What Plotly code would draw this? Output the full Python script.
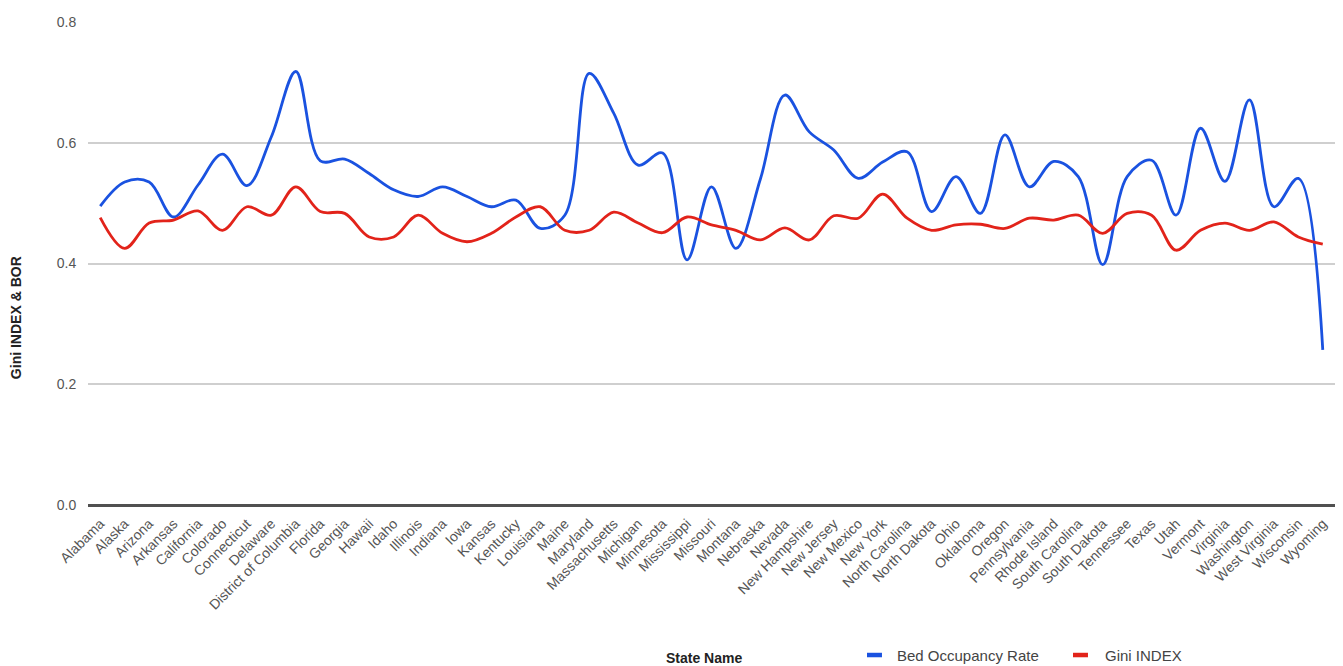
import plotly.graph_objects as go

states = [
    "Alabama", "Alaska", "Arizona", "Arkansas", "California", "Colorado",
    "Connecticut", "Delaware", "District of Columbia", "Florida", "Georgia",
    "Hawaii", "Idaho", "Illinois", "Indiana", "Iowa", "Kansas", "Kentucky",
    "Louisiana", "Maine", "Maryland", "Massachusetts", "Michigan", "Minnesota",
    "Mississippi", "Missouri", "Montana", "Nebraska", "Nevada", "New Hampshire",
    "New Jersey", "New Mexico", "New York", "North Carolina", "North Dakota",
    "Ohio", "Oklahoma", "Oregon", "Pennsylvania", "Rhode Island",
    "South Carolina", "South Dakota", "Tennessee", "Texas", "Utah", "Vermont",
    "Virginia", "Washington", "West Virginia", "Wisconsin", "Wyoming",
]

bed_occupancy_rate = [
    0.495, 0.535, 0.535, 0.477, 0.530, 0.581, 0.529, 0.610, 0.718, 0.570,
    0.573, 0.549, 0.522, 0.511, 0.527, 0.511, 0.494, 0.505, 0.458, 0.480,
    0.715, 0.649, 0.563, 0.583, 0.406, 0.527, 0.425, 0.540, 0.679, 0.618,
    0.588, 0.541, 0.568, 0.585, 0.486, 0.544, 0.483, 0.613, 0.527, 0.569,
    0.544, 0.398, 0.544, 0.571, 0.480, 0.624, 0.536, 0.671, 0.494, 0.541,
    0.257,
]

gini_index = [
    0.476, 0.425, 0.467, 0.472, 0.487, 0.455, 0.494, 0.480, 0.527, 0.486,
    0.483, 0.444, 0.444, 0.480, 0.450, 0.436, 0.450, 0.477, 0.494, 0.455,
    0.455, 0.485, 0.467, 0.451, 0.477, 0.464, 0.455, 0.439, 0.459, 0.439,
    0.479, 0.475, 0.515, 0.475, 0.455, 0.464, 0.465, 0.458, 0.475, 0.472,
    0.480, 0.450, 0.483, 0.480, 0.422, 0.455, 0.467, 0.455, 0.469, 0.444,
    0.432,
]

y_ticks = [0.0, 0.2, 0.4, 0.6, 0.8]
y_tick_text = ["0.0", "0.2", "0.4", "0.6", "0.8"]

series = [
    ("Bed Occupancy Rate", bed_occupancy_rate, "#1a52e0"),
    ("Gini INDEX", gini_index, "#e2231a"),
]

FONT = "Liberation Sans, Arial, sans-serif"

fig = go.Figure()
for name, values, color in series:
    fig.add_trace(go.Scatter(
        x=states, y=values, name=name, mode="lines",
        line=dict(color=color, width=2.8, shape="spline", smoothing=1.0),
        showlegend=False,
    ))

# Bottom legend: short thick swatch followed by the series name
legend_items = [(0.6247, 0.6367, 0.6472), (0.7899, 0.8019, 0.8140)]
legend_y = -0.3106
shapes = []
annotations = []
for (name, _, color), (x0, x1, xt) in zip(series, legend_items):
    shapes.append(dict(type="line", xref="paper", yref="paper",
                       x0=x0, x1=x1, y0=legend_y, y1=legend_y,
                       line=dict(color=color, width=4.5)))
    annotations.append(dict(text=name, x=xt, y=legend_y, xref="paper", yref="paper",
                            xanchor="left", yanchor="middle", showarrow=False,
                            font=dict(family=FONT, size=15, color="#444")))

annotations += [
    dict(text="<b>State Name</b>", x=0.494, y=-0.317, xref="paper", yref="paper",
         xanchor="center", yanchor="middle", showarrow=False,
         font=dict(family=FONT, size=14, color="#222")),
    dict(text="<b>Gini INDEX &amp; BOR</b>", x=-0.0577, y=0.387, xref="paper", yref="paper",
         xanchor="center", yanchor="middle", showarrow=False, textangle=-90,
         font=dict(family=FONT, size=14, color="#222")),
]

fig.update_layout(
    width=1343, height=666,
    margin=dict(l=88, r=8, t=22, b=161, autoexpand=False),
    paper_bgcolor="white", plot_bgcolor="white",
    font=dict(family=FONT, size=14, color="#555"),
    showlegend=False,
    shapes=shapes,
    annotations=annotations,
)

fig.update_xaxes(
    type="category", range=[-0.5, len(states) - 0.5], automargin=False,
    tickangle=-45, tickfont=dict(family=FONT, size=14, color="#555"),
    showgrid=False, showline=False, zeroline=False,
    ticks="outside", ticklen=4, tickcolor="rgba(0,0,0,0)",
)
fig.update_yaxes(
    range=[0, 0.8], tickvals=y_ticks, ticktext=y_tick_text, automargin=False,
    tickfont=dict(family=FONT, size=14, color="#555"),
    showgrid=True, gridcolor="#cfcfcf", gridwidth=1.8,
    zeroline=True, zerolinecolor="#505050", zerolinewidth=2.8,
    showline=False, ticks="outside", ticklen=8, tickcolor="rgba(0,0,0,0)",
)

fig.write_html("out.html")
